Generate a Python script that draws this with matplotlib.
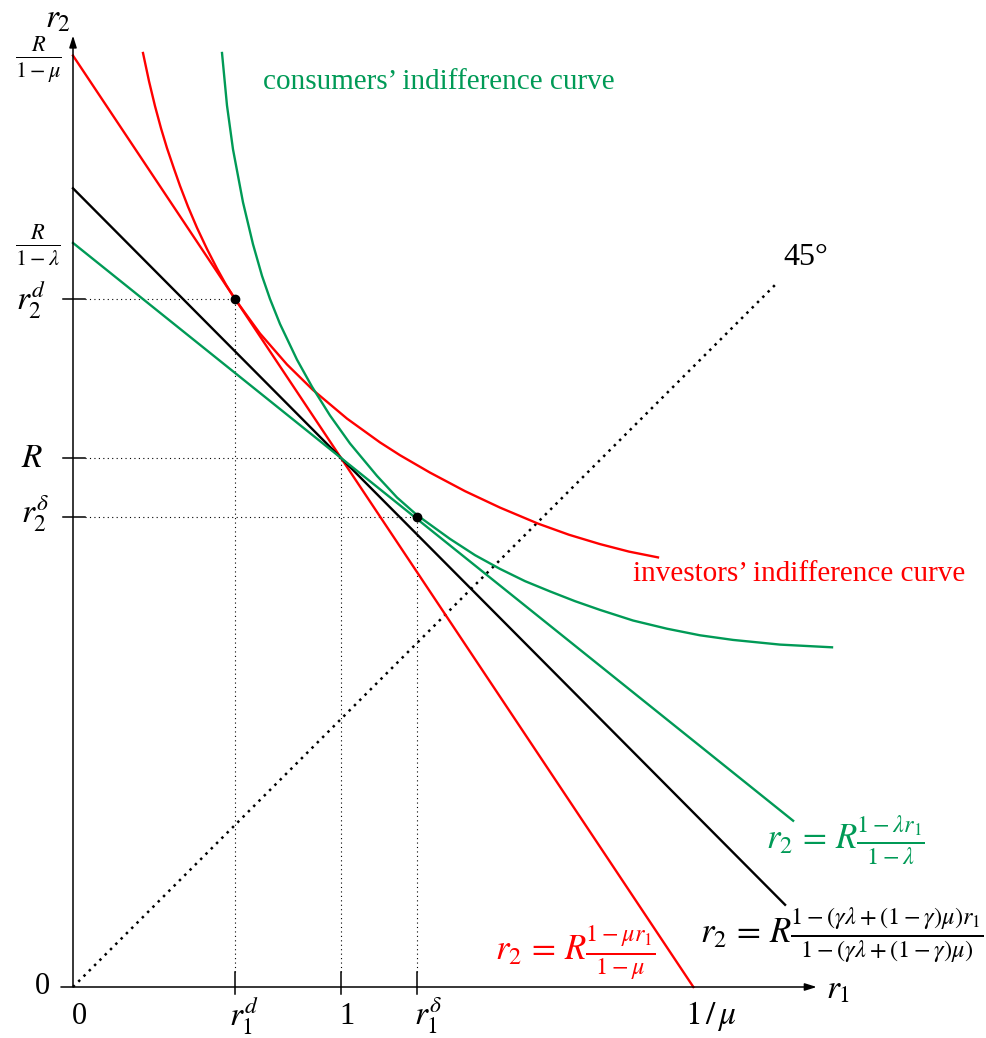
import matplotlib
matplotlib.use('Agg')
import matplotlib.pyplot as plt
import numpy as np

plt.rcParams['font.family'] = ['Liberation Serif', 'DejaVu Serif']
plt.rcParams['mathtext.fontset'] = 'stix'

# ---- model parameters ----
R = 1.974
mu = 0.432
lam = 0.289
gamma = 0.66

# equilibrium points
r1_d, r2_d = 0.604, 2.567
r1_delta, r2_delta = 1.284, 1.755

# line extents (r1 range)
red_line_end = 1.0 / mu
black_line_end = 2.657
green_line_end = 2.687
diag_end = 2.63

# investors' indifference curve (read points)
inv_r1 = [0.2612, 0.2836, 0.3060, 0.3284, 0.3507, 0.3769, 0.3993, 0.4291, 0.4627,
          0.5000, 0.5373, 0.5709, 0.6045, 0.6978, 0.7985, 0.8955, 1.0224, 1.1455,
          1.2201, 1.3321, 1.4627, 1.5933, 1.7351, 1.8507, 1.9664, 2.0746, 2.1828]
inv_r2 = [3.4851, 3.3799, 3.2869, 3.2041, 3.1302, 3.0532, 2.9894, 2.9118, 2.8328,
          2.7537, 2.6810, 2.6205, 2.5668, 2.4384, 2.3228, 2.2276, 2.1209, 2.0321,
          1.9843, 1.9194, 1.8502, 1.7888, 1.7291, 1.6875, 1.6526, 1.6246, 1.6030]

# consumers' indifference curve (read points)
con_r1 = [0.5560, 0.5746, 0.5970, 0.6343, 0.6716, 0.7052, 0.7351, 0.7724, 0.8358,
          0.8918, 0.9590, 1.0336, 1.1343, 1.2090, 1.2836, 1.4067, 1.5000, 1.5933,
          1.6866, 1.7799, 1.8731, 1.9664, 2.0896, 2.2164, 2.3396, 2.4627, 2.6381,
          2.8321]
con_r2 = [3.4851, 3.2892, 3.1257, 2.9280, 2.7716, 2.6537, 2.5672, 2.4739, 2.3407,
          2.2399, 2.1325, 2.0280, 1.9071, 1.8265, 1.7608, 1.6720, 1.6114, 1.5601,
          1.5144, 1.4761, 1.4397, 1.4071, 1.3675, 1.3369, 1.3123, 1.2951, 1.2776,
          1.2675]

RED = '#ff0000'
GREEN = '#009a56'
K = gamma * lam + (1 - gamma) * mu

fig = plt.figure(figsize=(9.87, 10.38), dpi=100)
ax = fig.add_axes([0, 0, 1, 1])
ax.set_xlim(-73 / 268, 914 / 268)
ax.set_ylim(-51 / 268, 987 / 268)
ax.axis('off')


def P(x, y):
    return ((x - 73) / 268, (987 - y) / 268)


# axes
arrow = dict(arrowstyle='-|>,head_length=0.7,head_width=0.22', color='black',
             lw=1.1, shrinkA=0, shrinkB=0)
ax.annotate('', xy=(2.775, 0), xytext=(-0.045, 0), arrowprops=arrow)
ax.annotate('', xy=(0, 3.55), xytext=(0, 0), arrowprops=arrow)

# ticks
for yv in [r2_d, R, r2_delta]:
    ax.plot([-0.037, 0.045], [yv, yv], color='black', lw=1.1)
for xv in [r1_d, 1.0, r1_delta]:
    ax.plot([xv, xv], [-0.026, 0.056], color='black', lw=1.1)

# dotted guides
gd = dict(color='black', lw=0.8, ls=(0, (1, 3)))
ax.plot([0.045, r1_d], [r2_d, r2_d], **gd)
ax.plot([r1_d, r1_d], [0.056, r2_d], **gd)
ax.plot([0.045, 1.0], [R, R], **gd)
ax.plot([1.0, 1.0], [0.056, R], **gd)
ax.plot([0.045, r1_delta], [r2_delta, r2_delta], **gd)
ax.plot([r1_delta, r1_delta], [0.056, r2_delta], **gd)

# 45 degree line
ax.plot([0, diag_end], [0, diag_end], color='black', lw=1.8, ls=(0, (1, 2)))

# budget lines
x = np.array([0.0, red_line_end])
ax.plot(x, R * (1 - mu * x) / (1 - mu), color=RED, lw=1.7)
x = np.array([0.0, black_line_end])
ax.plot(x, R * (1 - K * x) / (1 - K), color='black', lw=1.7)
x = np.array([0.0, green_line_end])
ax.plot(x, R * (1 - lam * x) / (1 - lam), color=GREEN, lw=1.7)

# indifference curves
ax.plot(inv_r1, inv_r2, color=RED, lw=1.7, solid_joinstyle='round')
ax.plot(con_r1, con_r2, color=GREEN, lw=1.7, solid_joinstyle='round')

# points
ax.plot([r1_d, r1_delta], [r2_d, r2_delta], 'o', color='black', ms=6, zorder=5)

FS = 21
FM = 24
# axis labels
ax.text(*P(58, 19), r'$r_2$', fontsize=FM, ha='center', va='center')
ax.text(*P(838, 990), r'$r_1$', fontsize=FM, ha='center', va='center')
ax.text(*P(38, 60), r'$\frac{R}{1-\mu}$', fontsize=23, ha='center', va='center')
ax.text(*P(38, 245), r'$\frac{R}{1-\lambda}$', fontsize=23, ha='center', va='center')
ax.text(*P(31, 300), r'$r_2^d$', fontsize=FM, ha='center', va='center')
ax.text(*P(32, 459), r'$R$', fontsize=FM, ha='center', va='center')
ax.text(*P(35, 514), r'$r_2^\delta$', fontsize=FM, ha='center', va='center')
ax.text(*P(42, 987), '0', fontsize=22, ha='center', va='center')
ax.text(*P(79, 1016), '0', fontsize=22, ha='center', va='center')
ax.text(*P(244, 1016), r'$r_1^d$', fontsize=FM, ha='center', va='center')
ax.text(*P(347, 1016), '1', fontsize=22, ha='center', va='center')
ax.text(*P(428, 1016), r'$r_1^\delta$', fontsize=FM, ha='center', va='center')
ax.text(*P(711, 1016), r'$1\,/\,\mu$', fontsize=FM, ha='center', va='center')

# curve labels
ax.text(*P(263, 89), 'consumers\u2019 indifference curve', fontsize=FS,
        color=GREEN, ha='left', va='baseline')
ax.text(*P(633, 581), 'investors\u2019 indifference curve', fontsize=FS,
        color=RED, ha='left', va='baseline')
ax.text(*P(783, 265), '45\u00b0', fontsize=23, ha='left', va='baseline')

# equation labels
FE = 25
ax.text(*P(845, 840), r'$r_2 \,=\, R\frac{1-\lambda r_1}{1-\lambda}$', fontsize=FE,
        color=GREEN, ha='center', va='center')
ax.text(*P(842, 935),
        r'$r_2 \,=\, R\frac{1-(\gamma\lambda+(1-\gamma)\mu)r_1}{1-(\gamma\lambda+(1-\gamma)\mu)}$',
        fontsize=FE, color='black', ha='center', va='center')
ax.text(*P(575, 953), r'$r_2 \,=\, R\frac{1-\mu r_1}{1-\mu}$', fontsize=FE,
        color=RED, ha='center', va='center')

fig.savefig('out.png', dpi=100)
